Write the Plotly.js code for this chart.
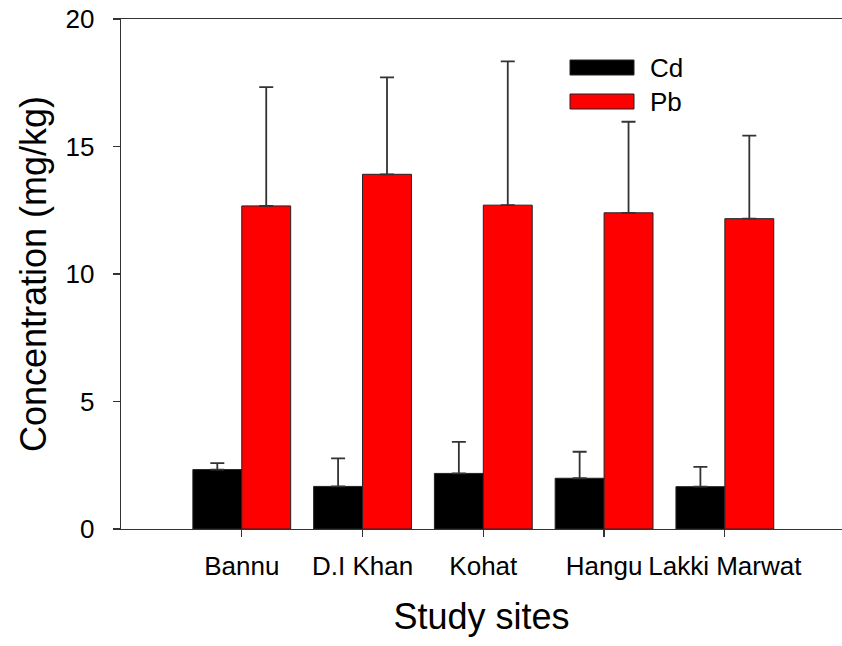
<!DOCTYPE html>
<html>
<head>
<meta charset="utf-8">
<script src="https://cdn.plot.ly/plotly-3.0.1.min.js"></script>
<style>html,body{margin:0;padding:0;background:#fff;}#chart{width:842px;height:646px;}</style>
</head>
<body>
<div id="chart"></div>
<script>
const sites = ["Bannu", "D.I Khan", "Kohat", "Hangu", "Lakki Marwat"];
const seriesNames = ["Cd", "Pb"];
const cdMean = [2.33, 1.67, 2.18, 1.99, 1.66];
const cdErr  = [0.25, 1.10, 1.24, 1.04, 0.78];
const pbMean = [12.67, 13.91, 12.70, 12.40, 12.17];
const pbErr  = [4.66, 3.80, 5.64, 3.57, 3.26];
const yTicks = [0, 5, 10, 15, 20];
const colors = ["#000000", "#ff0000"];

const font = "Liberation Sans, Arial, sans-serif";
const errStyle = {type: "data", symmetric: false, arrayminus: sites.map(() => 0),
  color: "#333333", thickness: 1.8, width: 7};

const traces = [
  {type: "bar", name: seriesNames[0], x: sites, y: cdMean,
   marker: {color: colors[0], line: {color: "#222222", width: 1}},
   error_y: Object.assign({array: cdErr}, errStyle)},
  {type: "bar", name: seriesNames[1], x: sites, y: pbMean,
   marker: {color: colors[1], line: {color: "#222222", width: 1}},
   error_y: Object.assign({array: pbErr}, errStyle)}
];

// legend drawn as wide swatches (paper coordinates)
const W = 721, H = 510;
const px = v => (v - 121) / W;
const py = v => (529 - v) / H;
const swatchTops = [60, 94];
const shapes = seriesNames.map((n, i) => ({
  type: "rect", xref: "paper", yref: "paper",
  x0: px(570), x1: px(634), y0: py(swatchTops[i]), y1: py(swatchTops[i] + 15),
  fillcolor: colors[i], line: {color: "#222222", width: 1}
}));
const annotations = seriesNames.map((n, i) => ({
  xref: "paper", yref: "paper", x: px(648), y: py(swatchTops[i] + 8),
  xanchor: "left", yanchor: "middle", showarrow: false, text: n,
  font: {family: font, size: 26, color: "#000"}
}));

const layout = {
  width: 842, height: 646,
  margin: {l: 121, r: 0, t: 19, b: 117},
  paper_bgcolor: "#ffffff", plot_bgcolor: "#ffffff",
  barmode: "group", bargap: 0.19, bargroupgap: 0,
  showlegend: false,
  shapes: shapes, annotations: annotations,
  xaxis: {type: "category", range: [-1, 4.97], showline: true, linecolor: "#333", linewidth: 1.3,
    mirror: true, ticks: "outside", ticklen: 7, tickcolor: "#333", tickwidth: 1.3,
    ticklabelstandoff: 6, tickangle: 0,
    showgrid: false, zeroline: false, tickfont: {family: font, size: 26, color: "#000"},
    title: {text: "Study sites", font: {family: font, size: 36, color: "#000"}, standoff: 24}},
  yaxis: {range: [0, 20], tickvals: yTicks, ticktext: yTicks.map(String),
    showline: true, linecolor: "#333", linewidth: 1.3,
    ticks: "outside", ticklen: 7, tickcolor: "#333", tickwidth: 1.3,
    ticklabelstandoff: 13,
    showgrid: false, zeroline: false, tickfont: {family: font, size: 26, color: "#000"},
    title: {text: "Concentration (mg/kg)", font: {family: font, size: 36, color: "#000"}, standoff: 8}}
};

Plotly.newPlot("chart", traces, layout, {displayModeBar: false, staticPlot: true});
</script>
</body>
</html>
